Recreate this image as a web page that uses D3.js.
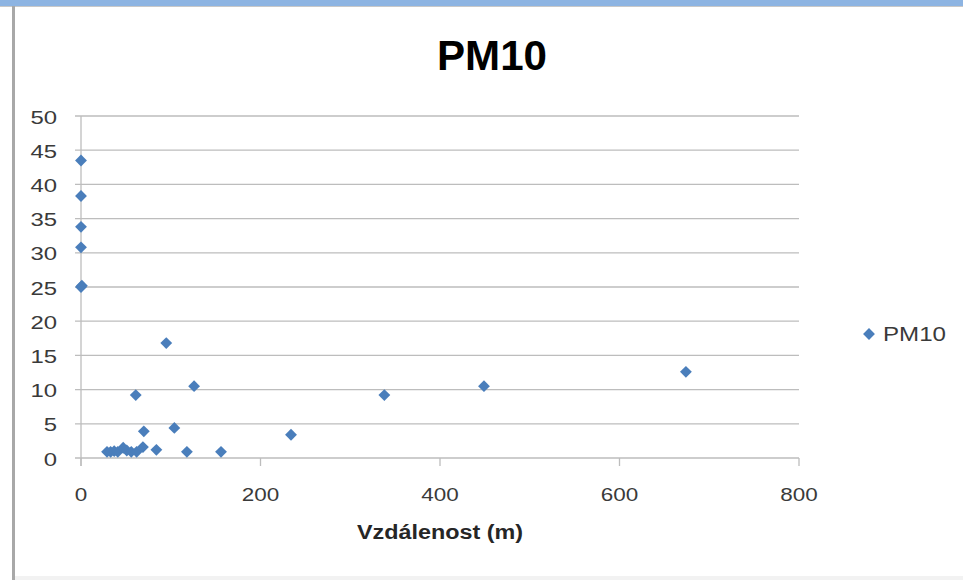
<!DOCTYPE html>
<html><head><meta charset="utf-8">
<script src="https://cdn.jsdelivr.net/npm/d3@7"></script>
<style>html,body{margin:0;padding:0;background:#fff;}svg{display:block;}</style>
</head><body>
<svg id="c" width="963" height="580"></svg>
<script>
// ---- data ----
const seriesName = "PM10";
const distance = [0, 0, 0, 0, 0, 1, 29, 33, 37, 41, 47, 51, 56, 62, 69, 70, 61, 84, 95, 104, 118, 126, 156, 234, 338, 449, 674];
const pm10     = [43.5, 38.3, 33.8, 30.8, 25.0, 25.2, 0.9, 0.9, 1.0, 0.9, 1.5, 1.1, 0.9, 0.9, 1.6, 3.9, 9.2, 1.2, 16.8, 4.4, 0.9, 10.5, 0.9, 3.4, 9.2, 10.5, 12.6];
const xTicks = [0, 200, 400, 600, 800];
const yTicks = [0, 5, 10, 15, 20, 25, 30, 35, 40, 45, 50];
const chartTitle = "PM10";
const xTitle = "Vzdálenost (m)";

const svg = d3.select("#c");
const font = "'Liberation Sans', Arial, sans-serif";

// frame decoration
svg.append("rect").attr("x",0).attr("y",0).attr("width",963).attr("height",6).attr("fill","#8db4e2");
svg.append("rect").attr("x",0).attr("y",6).attr("width",963).attr("height",1).attr("fill","#c8c8c8");
svg.append("rect").attr("x",12).attr("y",6).attr("width",3).attr("height",574).attr("fill","#a8a8a8");
svg.append("rect").attr("x",15).attr("y",576).attr("width",948).attr("height",4).attr("fill","#f2f2f2");

const x = d3.scaleLinear().domain([0, 800]).range([81, 799]);
const y = d3.scaleLinear().domain([0, 50]).range([458, 116]);

// gridlines
svg.append("g").selectAll("line").data(yTicks).join("line")
  .attr("x1", x(0) - 6).attr("x2", x(800))
  .attr("y1", d => y(d)).attr("y2", d => y(d))
  .attr("stroke", "#bdbdbd").attr("stroke-width", 1.3);

// y axis line
svg.append("line").attr("x1", x(0)).attr("x2", x(0)).attr("y1", y(50)).attr("y2", y(0) + 8)
  .attr("stroke", "#bdbdbd").attr("stroke-width", 1.3);

// x ticks
svg.append("g").selectAll("line").data(xTicks).join("line")
  .attr("x1", d => x(d)).attr("x2", d => x(d))
  .attr("y1", y(0)).attr("y2", y(0) + 8)
  .attr("stroke", "#bdbdbd").attr("stroke-width", 1.3);

// y tick labels
svg.append("g").selectAll("text").data(yTicks).join("text")
  .attr("x", 57).attr("y", d => y(d) + 1)
  .attr("text-anchor", "end").attr("dominant-baseline", "central")
  .attr("font-family", font).attr("font-size", 19).attr("fill", "#3a3a3a")
  .attr("textLength", d => String(d).length * 13.3).attr("lengthAdjust", "spacingAndGlyphs")
  .text(d => d);

// x tick labels
svg.append("g").selectAll("text").data(xTicks).join("text")
  .attr("x", d => x(d)).attr("y", 494)
  .attr("text-anchor", "middle").attr("dominant-baseline", "central")
  .attr("font-family", font).attr("font-size", 19).attr("fill", "#3a3a3a")
  .attr("textLength", d => String(d).length * 12.5).attr("lengthAdjust", "spacingAndGlyphs")
  .text(d => d);

// points
const pts = distance.map((d, i) => ({x: d, y: pm10[i]}));
const sym = d3.symbol().type(d3.symbolSquare).size(70);
svg.append("g").selectAll("path").data(pts).join("path")
  .attr("d", sym)
  .attr("transform", d => `translate(${x(d.x)},${y(d.y)}) rotate(45)`)
  .attr("fill", "#4a7ebb");

// title
svg.append("text").attr("x", 492).attr("y", 70).attr("text-anchor", "middle")
  .attr("font-family", font).attr("font-weight", "bold").attr("font-size", 42).attr("fill", "#000")
  .attr("textLength", 110).attr("lengthAdjust", "spacingAndGlyphs")
  .text(chartTitle);

// x axis title
svg.append("text").attr("x", 440).attr("y", 532).attr("text-anchor", "middle").attr("dominant-baseline", "central")
  .attr("font-family", font).attr("font-weight", "bold").attr("font-size", 20).attr("fill", "#262626")
  .attr("textLength", 166).attr("lengthAdjust", "spacingAndGlyphs")
  .text(xTitle);

// legend
svg.append("path").attr("d", sym).attr("transform", "translate(869,334) rotate(45)").attr("fill", "#4a7ebb");
svg.append("text").attr("x", 883).attr("y", 334).attr("dominant-baseline", "central")
  .attr("font-family", font).attr("font-size", 20).attr("fill", "#3a3a3a")
  .attr("textLength", 63).attr("lengthAdjust", "spacingAndGlyphs")
  .text(seriesName);
</script>
</body></html>
